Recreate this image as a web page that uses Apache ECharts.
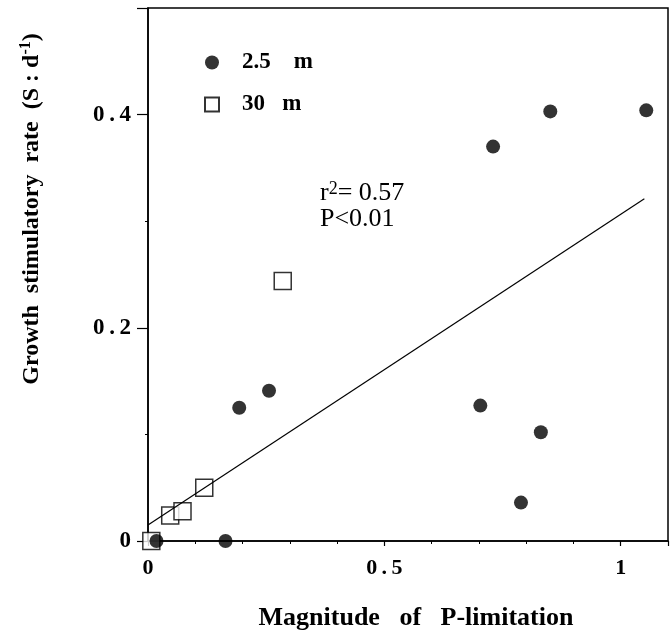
<!DOCTYPE html>
<html>
<head>
<meta charset="utf-8">
<script src="https://cdn.jsdelivr.net/npm/echarts@6/dist/echarts.min.js"></script>
<style>
	html, body { margin: 0; padding: 0; background: #fff; }
	#main { width: 672px; height: 630px; }
</style>
</head>
<body>
<div id="main"></div>
<script>
// 2.5 m (filled circles)
var shallowX = [0.018, 0.164, 0.193, 0.256, 0.703, 0.831, 0.789, 0.730, 0.851, 1.054];
var shallowY = [0.000, 0.000, 0.125, 0.141, 0.127, 0.102, 0.036, 0.370, 0.403, 0.404];
// 30 m (open squares)
var deepX = [0.007, 0.047, 0.073, 0.119, 0.285];
var deepY = [0.000, 0.024, 0.028, 0.050, 0.244];
// regression line ends
var fitX = [0, 1.05];
var fitY = [0.015, 0.321];
// tick labels
var xTickLabels = ['0', '0.5', '1'];
var yTickLabels = ['0', '0.2', '0.4'];
var seriesNames = ['2.5    m', '30   m'];

var serif = '"Liberation Serif", "DejaVu Serif", serif';

function pairs(xs, ys){
	var out = [];
	for(var i=0;i<xs.length;i++){
		out.push([xs[i], ys[i]]);
	}
	return out;
}

// 只显示指定刻度的标签，字符之间留空
function tickFormatter(list){
	return function(v){
		for(var i=0;i<list.length;i++){
			if(Math.abs(parseFloat(list[i]) - v) < 1e-6){
				return list[i].split('').join('\u2009');
			}
		}
		return '';
	};
}

var myChart = echarts.init(document.getElementById('main'));

var option = {
	animation: false,
	backgroundColor: '#fff',
	grid: {
		left: 148, right: 4, top: 8, bottom: 89,
		show: true, borderColor: '#000', borderWidth: 1.5, backgroundColor: 'transparent'
	},
	legend: {
		data: seriesNames,
		orient: 'vertical',
		left: 199, top: 46,
		itemWidth: 14, itemHeight: 14, itemGap: 19,
		textStyle: { fontFamily: serif, fontWeight: 'bold', fontSize: 23, color: '#000', padding: [0, 0, 0, 18] }
	},
	xAxis: {
		type: 'value', min: 0, max: 1.1, interval: 0.5,
		splitLine: { show: false },
		axisLine: { lineStyle: { color: '#000', width: 1.5 } },
		axisTick: { length: 5, lineStyle: { color: '#000', width: 1.2 } },
		minorTick: { show: true, splitNumber: 5, length: 3, lineStyle: { color: '#000' } },
		axisLabel: {
			formatter: tickFormatter(xTickLabels), margin: 16,
			fontFamily: serif, fontWeight: 'bold', fontSize: 22, color: '#000'
		}
	},
	yAxis: {
		type: 'value', min: 0, max: 0.5, interval: 0.2,
		splitLine: { show: false },
		axisLine: { lineStyle: { color: '#000', width: 1.5 } },
		axisTick: { length: 11, lineStyle: { color: '#000', width: 1.2 } },
		minorTick: { show: true, splitNumber: 2, length: 3, lineStyle: { color: '#000' } },
		axisLabel: {
			formatter: tickFormatter(yTickLabels), margin: 17,
			fontFamily: serif, fontWeight: 'bold', fontSize: 23, color: '#000'
		}
	},
	series: [
		{
			name: 'fit', type: 'line', data: pairs(fitX, fitY),
			showSymbol: false, silent: true,
			lineStyle: { color: '#000', width: 1.2 }
		},
		// 方块先画，圆点盖在上面
		{
			name: seriesNames[1], type: 'scatter', data: pairs(deepX, deepY),
			symbol: 'rect', symbolSize: 17,
			itemStyle: { color: '#fff', borderColor: '#000', borderWidth: 1.5 }
		},
		{
			name: seriesNames[0], type: 'scatter', data: pairs(shallowX, shallowY),
			symbol: 'circle', symbolSize: 14,
			itemStyle: { color: '#000' }
		}
	],
	graphic: [
		{
			type: 'text', left: 320, top: 180,
			style: {
				text: '{b|r}{sup|2}{b|= 0.57}\n{b|P<0.01}',
				fill: '#000',
				rich: {
					b: { fontFamily: serif, fontSize: 26, lineHeight: 26 },
					sup: { fontFamily: serif, fontSize: 18, verticalAlign: 'top', lineHeight: 26, padding: [0, 0, 12, 0] }
				}
			}
		},
		{
			type: 'text', x: 416, y: 618,
			style: {
				text: 'Magnitude   of   P-limitation',
				fontFamily: serif, fontWeight: 'bold', fontSize: 26, fill: '#000',
				align: 'center', verticalAlign: 'middle'
			}
		},
		{
			type: 'text', x: 32, y: 209, rotation: Math.PI / 2,
			style: {
				text: '{t|Growth  stimulatory  rate  (S : d}{s|-1}{t|)}',
				fill: '#000', align: 'center', verticalAlign: 'middle',
				rich: {
					t: { fontFamily: serif, fontWeight: 'bold', fontSize: 24, lineHeight: 28 },
					s: { fontFamily: serif, fontWeight: 'bold', fontSize: 16, lineHeight: 28, padding: [0, 0, 12, 0] }
				}
			}
		}
	]
};

myChart.setOption(option);
</script>
</body>
</html>
